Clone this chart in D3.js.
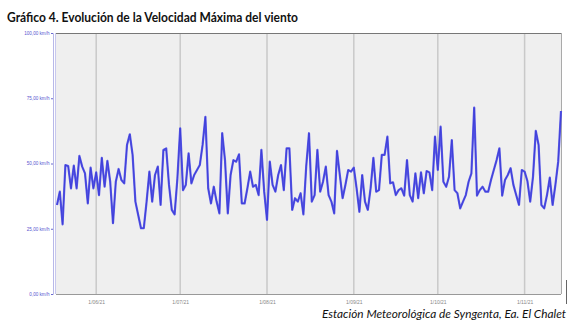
<!DOCTYPE html>
<html><head><meta charset="utf-8">
<script src="https://cdn.jsdelivr.net/npm/d3@7"></script>
<style>body{margin:0;background:#fff}svg{display:block}</style>
</head><body>
<script>
const startDate = "2021-05-18";
const values = [
34.1,39.2,26.7,49.4,49.0,40.5,49.2,40.5,52.9,48.8,46.2,34.7,48.4,40.5,46.6,37.9,52.2,41.1,51.0,43.0,27.1,43.0,47.9,43.7,42.4,57.1,61.2,53.3,35.4,30.3,25.2,25.2,35.4,46.9,35.4,
45.6,48.8,34.1,55.2,55.8,41.8,32.2,30.5,44.3,63.5,39.8,41.8,53.9,42.4,45.6,47.5,49.4,57.1,67.9,40.5,34.7,41.1,35.4,30.9,61.6,51.3,30.9,45.6,51.3,50.7,53.5,34.7,34.7,40.5,46.9,41.1,
41.8,37.9,55.2,39.2,28.4,50.7,41.8,39.2,45.6,49.4,39.8,55.8,55.8,32.2,36.7,35.4,38.6,30.5,48.8,61.6,35.4,37.9,55.2,39.2,43.0,48.8,37.9,35.4,30.9,54.8,45.6,36.7,41.8,47.5,46.9,48.4,40.5,31.5,
45.6,35.4,32.2,40.5,52.2,39.2,39.8,53.3,53.3,60.3,42.4,42.8,37.9,39.8,40.5,37.7,51.3,37.9,35.4,46.2,36.7,46.6,38.6,47.1,46.6,39.8,60.3,47.5,64.1,43.0,41.1,44.9,59.0,39.8,38.6,32.8,
35.4,37.9,43.0,46.2,71.4,37.7,39.8,41.1,39.2,39.2,43.7,47.5,51.3,55.8,37.7,43.7,45.6,48.2,41.8,37.9,34.1,47.5,46.9,43.3,35.4,44.9,62.5,57.1,34.1,32.8,37.9,44.6,34.1,41.8,50.7,70.1
];
const yTicks = [0,25,50,75,100];
const yTickLabels = ["0,00 km/h","25,00 km/h","50,00 km/h","75,00 km/h","100,00 km/h"];
const xTicks = ["2021-06-01","2021-07-01","2021-08-01","2021-09-01","2021-10-01","2021-11-01"];
const xTickLabels = ["1/06/21","1/07/21","1/08/21","1/09/21","1/10/21","1/11/21"];
const title = "Gráfico 4. Evolución de la Velocidad Máxima del viento";
const source = "Estación Meteorológica de Syngenta, Ea. El Chalet";

const parse = d3.utcParse("%Y-%m-%d");
const t0 = parse(startDate);
const data = values.map((v,i)=>({date:d3.utcDay.offset(t0,i), v}));

const W=586,H=336, L=56, R=561, T=33, B=294;
const svg = d3.select("body").append("svg").attr("width",W).attr("height",H);

svg.append("text").attr("x",7).attr("y",22).attr("font-family","Lato, 'Open Sans', sans-serif")
  .attr("font-weight","bold").attr("font-size",12.5).attr("fill","#111").attr("textLength",291).attr("lengthAdjust","spacingAndGlyphs").text(title);

const x = d3.scaleUtc().domain(d3.extent(data,d=>d.date)).range([L+1,R]);
const y = d3.scaleLinear().domain([0,100]).range([B,T]);

// plot background
svg.append("rect").attr("x",L).attr("y",T).attr("width",R-L).attr("height",B-T).attr("fill","#efefef");

// vertical gridlines
svg.append("g").selectAll("line").data(xTicks).join("line")
  .attr("x1",d=>x(parse(d))).attr("x2",d=>x(parse(d))).attr("y1",T).attr("y2",B)
  .attr("stroke","#c9c9c9").attr("stroke-width",1.5);

// frame
svg.append("line").attr("x1",L).attr("x2",R).attr("y1",T+0.5).attr("y2",T+0.5).attr("stroke","#777").attr("stroke-width",1);
svg.append("line").attr("x1",L).attr("x2",R).attr("y1",B+0.5).attr("y2",B+0.5).attr("stroke","#999").attr("stroke-width",1);
svg.append("line").attr("x1",R+0.5).attr("x2",R+0.5).attr("y1",T).attr("y2",B).attr("stroke","#aaa").attr("stroke-width",1);
svg.append("line").attr("x1",566.5).attr("x2",566.5).attr("y1",280).attr("y2",304).attr("stroke","#666").attr("stroke-width",1);

// y axis
const yAxis = d3.axisLeft(y).tickValues(yTicks).tickFormat((d,i)=>yTickLabels[i]).tickSize(2).tickPadding(1.5);
const gy = svg.append("g").attr("transform",`translate(${L-3},0)`).call(yAxis);
gy.select(".domain").attr("stroke","#b8b8e8").attr("stroke-width",1);
gy.selectAll(".tick line").attr("stroke","#6a6ad0");
gy.selectAll("text").attr("font-family","Liberation Sans, Arial, sans-serif").attr("font-size",4.6).attr("fill","#5656d0");
svg.append("line").attr("x1",L-0.5).attr("x2",L-0.5).attr("y1",T).attr("y2",B).attr("stroke","#c8c8ee").attr("stroke-width",1);

// x axis labels
const xAxis = d3.axisBottom(x).tickValues(xTicks.map(parse)).tickFormat((d,i)=>xTickLabels[i]).tickSize(0).tickPadding(6);
const gx = svg.append("g").attr("transform",`translate(0,${B})`).call(xAxis);
gx.select(".domain").remove();
gx.selectAll("text").attr("font-family","Liberation Sans, Arial, sans-serif").attr("font-size",5).attr("fill","#888");

// line
const line = d3.line().x(d=>x(d.date)).y(d=>y(d.v));
svg.append("path").datum(data).attr("d",line).attr("fill","none")
  .attr("stroke","#5a5ae6").attr("stroke-width",2.2).attr("stroke-linejoin","round");
svg.append("path").datum(data).attr("d",line).attr("fill","none")
  .attr("stroke","#3c3cd8").attr("stroke-width",0.9).attr("stroke-linejoin","round");

// source
svg.append("text").attr("x",566).attr("y",318).attr("text-anchor","end")
  .attr("font-family","Lato, 'Open Sans', sans-serif").attr("font-style","italic").attr("font-size",11.5)
  .attr("fill","#111").attr("textLength",244).attr("lengthAdjust","spacingAndGlyphs").text(source);
</script>
</body></html>
